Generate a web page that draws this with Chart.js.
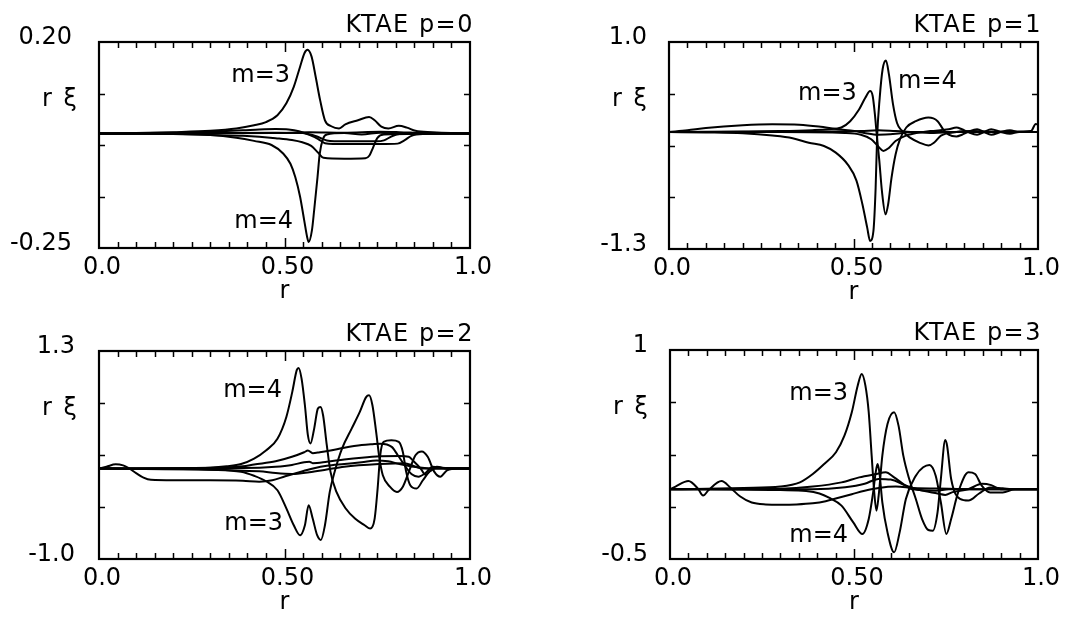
<!DOCTYPE html>
<html>
<head>
<meta charset="utf-8">
<script src="https://cdn.jsdelivr.net/npm/chart.js@4.4.1/dist/chart.umd.min.js"></script>
<style>
  html, body { margin: 0; padding: 0; background: #fff; }
  #wrap { position: relative; width: 1083px; height: 617px; background: #fff; }
  #wrap canvas { position: absolute; left: 0; top: 0; }
</style>
</head>
<body>
<div id="wrap"></div>
<script>
// Radial eigenfunctions r·ξ_m(r) of the KTAE modes p = 0..3, one array of [r, value] per poloidal harmonic.

const xTickValues = [0, 0.5, 1];
const xTickLabels = ['0.0', '0.50', '1.0'];

// ---- p = 0 ----
const p0_m3 = [[0,0],[0.1,0.001],[0.2,0.003],[0.3,0.006],[0.37,0.011],[0.418,0.018],[0.45,0.025],[0.481,0.04],[0.505,0.066],[0.525,0.102],[0.542,0.146],[0.554,0.176],[0.562,0.183],[0.573,0.168],[0.584,0.124],[0.596,0.073],[0.609,0.029],[0.626,0.016],[0.647,0.011],[0.664,0.02],[0.698,0.029],[0.728,0.036],[0.743,0.029],[0.761,0.015],[0.78,0.011],[0.808,0.017],[0.83,0.013],[0.853,0.006],[0.899,0.003],[0.949,0.001],[1,0]];
const p0_m4 = [[0,0],[0.1,-0.0005],[0.2,-0.001],[0.3,-0.003],[0.37,-0.009],[0.418,-0.016],[0.465,-0.025],[0.497,-0.044],[0.516,-0.066],[0.529,-0.095],[0.542,-0.138],[0.553,-0.189],[0.561,-0.226],[0.565,-0.237],[0.574,-0.211],[0.58,-0.167],[0.589,-0.095],[0.595,-0.044],[0.604,-0.011],[0.614,-0.002],[0.661,0.001],[0.708,-0.002],[0.758,0.002],[0.81,-0.001],[0.873,0.001],[1,0]];
const p0_m2 = [[0,0],[0.2,0.002],[0.3,0.004],[0.388,0.007],[0.432,0.009],[0.476,0.01],[0.511,0.009],[0.539,0.005],[0.567,-0.003],[0.591,-0.012],[0.609,-0.021],[0.661,-0.023],[0.758,-0.023],[0.805,-0.022],[0.823,-0.015],[0.842,-0.005],[0.873,-0.001],[1,0]];
const p0_m5 = [[0,0],[0.2,-0.001],[0.3,-0.003],[0.388,-0.005],[0.432,-0.007],[0.476,-0.01],[0.52,-0.014],[0.548,-0.019],[0.572,-0.027],[0.591,-0.042],[0.605,-0.053],[0.661,-0.055],[0.718,-0.054],[0.729,-0.048],[0.739,-0.03],[0.75,-0.01],[0.768,-0.002],[1,0]];
const p0_m6 = [[0,0],[0.3,0.001],[0.476,0.002],[0.548,0.001],[0.586,-0.006],[0.614,-0.015],[0.661,-0.017],[0.748,-0.017],[0.768,-0.015],[0.789,-0.006],[0.81,-0.001],[1,0]];
const p0_m1 = [[0,0],[0.476,0.001],[0.567,0.003],[0.661,0.002],[0.758,0.004],[0.81,0.003],[0.873,0.001],[1,0]];

// ---- p = 1 ----
const p1_m3 = [[0,0],[0.1,0.002],[0.2,0.005],[0.3,0.01],[0.388,0.02],[0.432,0.03],[0.467,0.05],[0.491,0.12],[0.515,0.25],[0.532,0.38],[0.545,0.455],[0.552,0.4],[0.558,0.196],[0.563,-0.03],[0.57,-0.32],[0.577,-0.655],[0.587,-0.915],[0.594,-0.8],[0.603,-0.51],[0.614,-0.25],[0.626,-0.08],[0.643,0.05],[0.669,0.12],[0.703,0.16],[0.728,0.12],[0.743,0.03],[0.758,-0.03],[0.779,-0.05],[0.794,-0.03],[0.81,0],[0.835,0.03],[0.854,0],[0.873,-0.03],[0.899,0],[0.924,0.02],[0.949,0],[1,0]];
const p1_m4 = [[0,0],[0.1,-0.005],[0.2,-0.015],[0.28,-0.04],[0.335,-0.07],[0.379,-0.12],[0.42,-0.155],[0.452,-0.229],[0.484,-0.359],[0.508,-0.54],[0.524,-0.8],[0.537,-1.06],[0.545,-1.21],[0.554,-1.1],[0.56,-0.62],[0.564,-0.06],[0.571,0.38],[0.579,0.7],[0.588,0.795],[0.596,0.64],[0.607,0.31],[0.618,0.1],[0.63,0.02],[0.652,-0.06],[0.68,-0.12],[0.703,-0.15],[0.718,-0.12],[0.737,-0.04],[0.779,0],[0.823,0.01],[0.873,0],[1,0]];
const p1_m2 = [[0,0],[0.05,0.02],[0.1,0.045],[0.2,0.075],[0.28,0.085],[0.353,0.08],[0.406,0.06],[0.458,0.03],[0.502,0.01],[0.529,-0.01],[0.567,-0.03],[0.614,-0.02],[0.661,0],[0.758,0],[0.873,0],[0.981,0.01],[0.994,0.09],[1,0.08]];
const p1_m5 = [[0,0],[0.3,0],[0.476,-0.01],[0.52,-0.03],[0.548,-0.08],[0.567,-0.16],[0.581,-0.21],[0.595,-0.18],[0.614,-0.1],[0.642,-0.04],[0.661,-0.02],[0.708,0.01],[0.758,0.03],[0.779,0.05],[0.794,0.03],[0.81,0],[0.835,-0.03],[0.854,0],[0.873,0.03],[0.899,0],[0.924,-0.02],[0.949,0],[1,0]];
const p1_m1 = [[0,0],[0.388,0.005],[0.52,0.01],[0.567,0.02],[0.614,0.01],[0.708,-0.01],[0.81,0.005],[1,0]];

// ---- p = 2 ----
const p2_m4 = [[0,0],[0.1,0],[0.2,0.003],[0.3,0.01],[0.344,0.025],[0.383,0.05],[0.418,0.11],[0.45,0.2],[0.481,0.33],[0.505,0.571],[0.521,0.848],[0.533,1.088],[0.538,1.113],[0.546,0.995],[0.555,0.7],[0.563,0.369],[0.57,0.277],[0.58,0.442],[0.59,0.664],[0.597,0.682],[0.604,0.59],[0.614,0.258],[0.624,-0.037],[0.64,-0.258],[0.665,-0.442],[0.69,-0.553],[0.716,-0.627],[0.731,-0.664],[0.743,-0.553],[0.751,-0.221],[0.758,0.147],[0.767,0.295],[0.788,0.313],[0.808,0.295],[0.819,0.184],[0.828,-0.037],[0.839,-0.184],[0.856,-0.221],[0.873,-0.129],[0.89,-0.037],[0.911,0.02],[0.937,0],[1,0]];
const p2_m3 = [[0,0],[0.1,-0.002],[0.2,-0.005],[0.3,-0.012],[0.383,-0.035],[0.418,-0.08],[0.45,-0.14],[0.481,-0.24],[0.505,-0.44],[0.525,-0.627],[0.542,-0.737],[0.555,-0.627],[0.565,-0.406],[0.576,-0.553],[0.588,-0.737],[0.598,-0.79],[0.609,-0.627],[0.622,-0.258],[0.635,-0.037],[0.655,0.221],[0.681,0.442],[0.703,0.627],[0.72,0.79],[0.728,0.81],[0.737,0.7],[0.747,0.406],[0.756,0.11],[0.765,-0.074],[0.784,-0.2],[0.803,-0.258],[0.819,-0.2],[0.835,-0.037],[0.853,0.147],[0.87,0.19],[0.886,0.13],[0.904,-0.037],[0.92,-0.09],[0.938,-0.02],[0.968,0],[1,0]];
const p2_m2 = [[0,0],[0.02,0.02],[0.045,0.047],[0.065,0.035],[0.08,0.005],[0.1,-0.05],[0.12,-0.1],[0.14,-0.125],[0.2,-0.13],[0.3,-0.13],[0.388,-0.135],[0.432,-0.145],[0.467,-0.13],[0.502,-0.085],[0.54,-0.04],[0.577,0],[0.614,0.03],[0.661,0.05],[0.708,0.07],[0.748,0.09],[0.779,0.08],[0.81,0.05],[0.848,0.02],[0.899,0],[1,0]];
const p2_m5 = [[0,0],[0.3,0.008],[0.388,0.025],[0.418,0.045],[0.476,0.08],[0.52,0.13],[0.553,0.18],[0.563,0.2],[0.576,0.17],[0.595,0.18],[0.624,0.2],[0.661,0.23],[0.708,0.26],[0.737,0.27],[0.758,0.275],[0.789,0.24],[0.805,0.15],[0.823,0.04],[0.842,-0.06],[0.861,-0.09],[0.88,-0.05],[0.899,0.02],[0.924,0.01],[1,0]];
const p2_m6 = [[0,0],[0.388,0.005],[0.476,0.02],[0.52,0.04],[0.553,0.07],[0.567,0.075],[0.576,0.06],[0.614,0.075],[0.661,0.1],[0.708,0.12],[0.758,0.135],[0.81,0.14],[0.835,0.13],[0.848,0.08],[0.867,0],[0.88,-0.07],[0.892,-0.03],[0.911,0.01],[0.937,0],[1,0]];
const p2_m1 = [[0,0],[0.432,-0.03],[0.476,-0.05],[0.52,-0.06],[0.567,-0.04],[0.614,-0.01],[0.661,0.02],[0.758,0.05],[0.823,0.06],[0.848,0.03],[0.873,0],[1,0]];

// ---- p = 3 ----
const p3_m3 = [[0,0],[0.1,0.004],[0.2,0.01],[0.3,0.02],[0.353,0.05],[0.388,0.11],[0.419,0.182],[0.451,0.266],[0.474,0.385],[0.494,0.553],[0.51,0.744],[0.521,0.828],[0.531,0.744],[0.54,0.553],[0.548,0.242],[0.555,-0.022],[0.561,-0.153],[0.567,-0.045],[0.577,0.242],[0.591,0.469],[0.609,0.553],[0.621,0.457],[0.634,0.242],[0.65,0.074],[0.668,-0.069],[0.685,-0.213],[0.702,-0.292],[0.714,-0.297],[0.727,-0.165],[0.736,0.074],[0.748,0.354],[0.753,0.313],[0.764,0.074],[0.788,-0.069],[0.811,-0.081],[0.84,-0.03],[0.87,0.014],[0.904,0.007],[0.938,0],[1,0]];
const p3_m4 = [[0,0],[0.1,0],[0.2,-0.002],[0.3,-0.005],[0.37,-0.012],[0.406,-0.03],[0.432,-0.06],[0.466,-0.117],[0.498,-0.237],[0.523,-0.321],[0.54,-0.213],[0.552,-0.022],[0.559,0.122],[0.564,0.182],[0.569,0.122],[0.577,-0.093],[0.591,-0.309],[0.609,-0.452],[0.624,-0.309],[0.641,-0.069],[0.668,0.098],[0.688,0.158],[0.705,0.175],[0.722,0.098],[0.736,-0.093],[0.751,-0.321],[0.764,-0.213],[0.783,-0.022],[0.811,0.122],[0.829,0.11],[0.847,0.026],[0.87,-0.022],[0.904,-0.022],[0.938,0],[1,0]];
const p3_m2 = [[0,0],[0.015,0.02],[0.05,0.06],[0.076,0.005],[0.09,-0.045],[0.105,-0.005],[0.14,0.06],[0.165,0.01],[0.19,-0.05],[0.222,-0.095],[0.26,-0.108],[0.3,-0.11],[0.344,-0.108],[0.388,-0.1],[0.423,-0.085],[0.458,-0.06],[0.494,-0.035],[0.529,-0.01],[0.567,0.01],[0.614,0.02],[0.661,0.01],[0.758,0.005],[0.873,0],[1,0]];
const p3_m5 = [[0,0],[0.3,0.005],[0.388,0.02],[0.466,0.05],[0.514,0.086],[0.561,0.11],[0.586,0.122],[0.609,0.086],[0.634,0.038],[0.659,0],[0.722,-0.01],[0.758,0],[1,0]];
const p3_m6 = [[0,0],[0.388,0],[0.476,0.015],[0.529,0.04],[0.567,0.075],[0.6,0.07],[0.638,0.03],[0.671,0],[0.727,-0.03],[0.748,-0.04],[0.768,-0.02],[0.81,0],[0.848,0.04],[0.873,0.03],[0.899,0],[1,0]];

// Per-panel layout: plot box [left, top, right, bottom] in page pixels, axis range and annotations.
const panels = [
  { box: [99, 42, 470, 248], yMin: -0.25, yMax: 0.20, yLabels: ['-0.25', '0.20'], yPad: 27,
    title: 'KTAE p=0', series: [p0_m1, p0_m6, p0_m2, p0_m5, p0_m4, p0_m3],
    notes: [['m=3', 0.515, 0.113], ['m=4', 0.523, -0.207]] },
  { box: [669, 42, 1038, 249], yMin: -1.3, yMax: 1.0, yLabels: ['-1.3', '1.0'], yPad: 22,
    title: 'KTAE p=1', series: [p1_m1, p1_m2, p1_m5, p1_m4, p1_m3],
    notes: [['m=3', 0.509, 0.356], ['m=4', 0.78, 0.489]] },
  { box: [99, 351, 470, 559], yMin: -1.0, yMax: 1.3, yLabels: ['-1.0', '1.3'], yPad: 24,
    title: 'KTAE p=2', series: [p2_m1, p2_m6, p2_m5, p2_m2, p2_m3, p2_m4],
    notes: [['m=4', 0.493, 0.795], ['m=3', 0.496, -0.68]] },
  { box: [670, 350, 1038, 559], yMin: -0.5, yMax: 1, yLabels: ['-0.5', '1'], yPad: 22,
    title: 'KTAE p=3', series: [p3_m6, p3_m5, p3_m2, p3_m4, p3_m3],
    notes: [['m=3', 0.484, 0.641], ['m=4', 0.484, -0.376]] }
];

const PAGE_W = 1083, PAGE_H = 617;
const Y_AXIS_W = 95, X_AXIS_H = 58;
const FONT = '"DejaVu Sans", "Liberation Sans", sans-serif';

Chart.defaults.font.family = FONT;
Chart.defaults.font.size = 24;
Chart.defaults.color = '#000';

// Frame with inward ticks, panel title, ordinate label and harmonic annotations.
const panelDecor = {
  id: 'panelDecor',
  afterDatasetsDraw(chart, args, opts) {
    const { ctx, chartArea: a, scales: { x, y } } = chart;
    ctx.save();
    ctx.strokeStyle = '#000';
    ctx.lineWidth = 2.2;
    ctx.strokeRect(a.left, a.top, a.right - a.left, a.bottom - a.top);

    ctx.lineWidth = 1.5;
    ctx.beginPath();
    for (let i = 1; i < 20; i++) {
      const v = i / 20;
      const px = Math.round(x.getPixelForValue(v)) + 0.5;
      const len = i === 10 ? 10 : 6;
      ctx.moveTo(px, a.bottom); ctx.lineTo(px, a.bottom - len);
      ctx.moveTo(px, a.top); ctx.lineTo(px, a.top + len);
    }
    for (let k = 1; k < 4; k++) {
      const v = y.min + (y.max - y.min) * k / 4;
      const py = Math.round(y.getPixelForValue(v)) + 0.5;
      ctx.moveTo(a.left, py); ctx.lineTo(a.left + 6, py);
      ctx.moveTo(a.right, py); ctx.lineTo(a.right - 6, py);
    }
    ctx.stroke();

    ctx.fillStyle = '#000';
    ctx.font = '24px ' + FONT;
    ctx.textBaseline = 'alphabetic';
    ctx.textAlign = 'right';

    ctx.letterSpacing = '1.5px';
    ctx.fillText(opts.title, a.right + 4, a.top - 10);

    ctx.letterSpacing = '2px';
    ctx.fillText('r ξ', a.left - 20, a.top + 64);

    ctx.letterSpacing = '0px';
    opts.notes.forEach(([txt, r, v]) => {
      ctx.fillText(txt, x.getPixelForValue(r), y.getPixelForValue(v));
    });
    ctx.restore();
  }
};

const wrap = document.getElementById('wrap');

panels.forEach((p) => {
  const canvas = document.createElement('canvas');
  canvas.width = PAGE_W; canvas.height = PAGE_H;
  canvas.style.width = PAGE_W + 'px'; canvas.style.height = PAGE_H + 'px';
  wrap.appendChild(canvas);

  const [L, T, R, B] = p.box;

  new Chart(canvas.getContext('2d'), {
    type: 'line',
    data: {
      datasets: p.series.map((s) => ({
        data: s.map(([r, v]) => ({ x: r, y: v })),
        borderColor: '#000',
        borderWidth: 2,
        pointRadius: 0,
        fill: false,
        cubicInterpolationMode: 'monotone'
      }))
    },
    options: {
      responsive: false,
      animation: false,
      events: [],
      layout: { padding: { left: L - Y_AXIS_W, top: T, right: PAGE_W - R, bottom: PAGE_H - B - X_AXIS_H } },
      plugins: {
        legend: { display: false },
        tooltip: { enabled: false },
        panelDecor: { title: p.title, notes: p.notes }
      },
      scales: {
        x: {
          type: 'linear', position: 'bottom', min: 0, max: 1,
          grid: { display: false, drawTicks: false },
          border: { display: false },
          afterBuildTicks: (s) => { s.ticks = xTickValues.map((v) => ({ value: v })); },
          afterFit: (s) => { s.height = X_AXIS_H; },
          ticks: {
            autoSkip: false, maxRotation: 0, padding: 5, labelOffset: 3,
            callback: (val, i) => xTickLabels[i]
          },
          title: { display: true, text: 'r', padding: { top: 0, bottom: 0 } }
        },
        y: {
          type: 'linear', position: 'left', min: p.yMin, max: p.yMax,
          grid: { display: false, drawTicks: false },
          border: { display: false },
          afterBuildTicks: (s) => { s.ticks = [{ value: p.yMin }, { value: p.yMax }]; },
          afterFit: (s) => { s.width = Y_AXIS_W; },
          ticks: {
            autoSkip: false, padding: p.yPad, labelOffset: -4,
            callback: (val, i) => p.yLabels[i]
          }
        }
      }
    },
    plugins: [panelDecor]
  });
});
</script>
</body>
</html>
